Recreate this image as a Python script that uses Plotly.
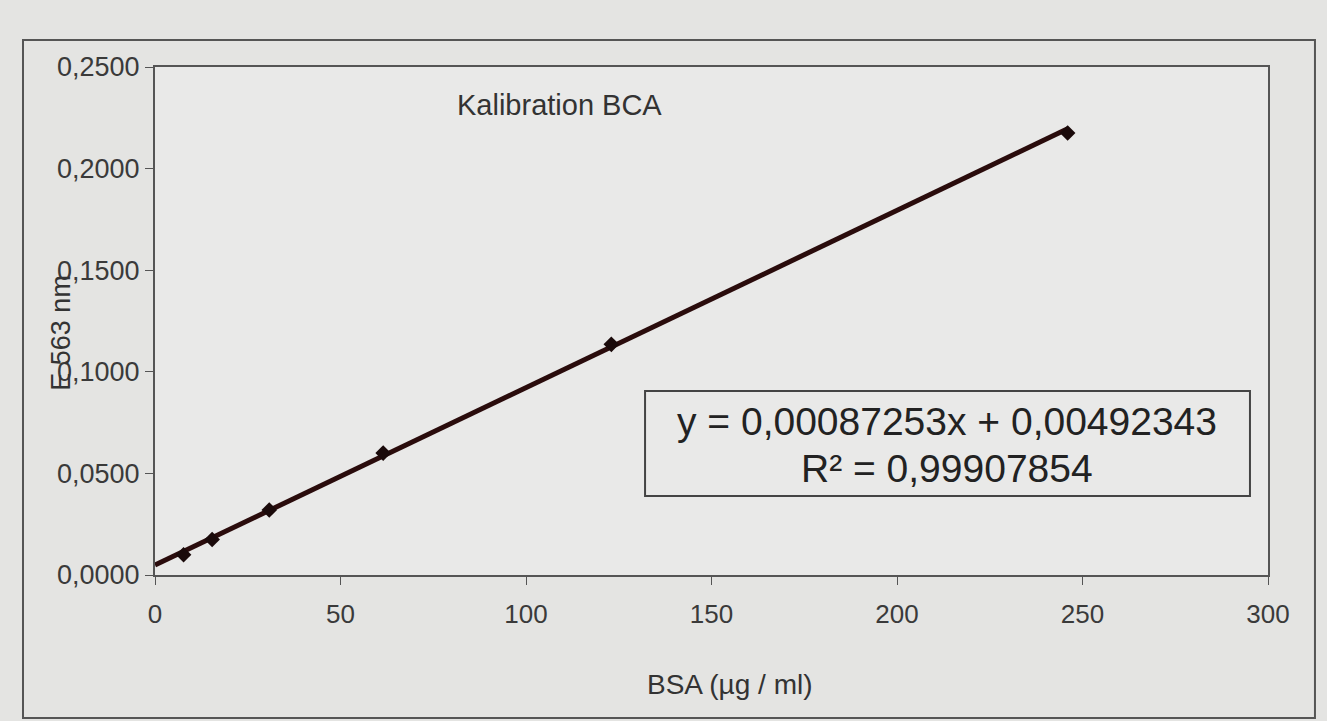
import plotly.graph_objects as go

bsa_ug_ml = [7.7, 15.4, 30.8, 61.5, 123, 246]
extinction = [0.0100, 0.0175, 0.0320, 0.0600, 0.1135, 0.2175]
slope = 0.00087253
intercept = 0.00492343
fit_x = [0, 246]
fit_y = [intercept + slope * x for x in fit_x]
x_ticks = [0, 50, 100, 150, 200, 250, 300]
y_ticks = [0, 0.05, 0.10, 0.15, 0.20, 0.25]

font_family = "Liberation Sans, Arial, sans-serif"
fig = go.Figure()
fig.add_trace(go.Scatter(x=fit_x, y=fit_y, mode="lines",
                         line=dict(color="#2a0c0c", width=5), showlegend=False, hoverinfo="skip"))
fig.add_trace(go.Scatter(x=bsa_ug_ml, y=extinction, mode="markers",
                         marker=dict(symbol="diamond", size=12, color="#1a0a0a"), showlegend=False))

fig.update_layout(
    width=1327, height=721,
    margin=dict(l=155, r=59, t=67, b=146),
    paper_bgcolor="#e4e4e2", plot_bgcolor="#e9e9e8",
    separators=",.",
    font=dict(family=font_family, size=26, color="#3a3a3a"),
    xaxis=dict(range=[0, 300], tickvals=x_ticks, ticks="outside", ticklen=8, tickcolor="#555",
               ticklabelstandoff=7,
               showline=True, linecolor="#555", linewidth=2, mirror=True, showgrid=False, zeroline=False,
               tickfont=dict(size=26, color="#3a3a3a")),
    yaxis=dict(range=[0, 0.25], tickvals=y_ticks, tickformat=".4f", ticks="outside", ticklen=8, tickcolor="#555",
               showline=True, linecolor="#555", linewidth=2, mirror=True, showgrid=False, zeroline=False,
               tickfont=dict(size=27, color="#3a3a3a")),
)

fig.add_annotation(text="Kalibration BCA", xref="paper", yref="paper", x=0.2695, y=0.925,
                   xanchor="left", yanchor="middle", showarrow=False, font=dict(size=29, color="#333"))
fig.add_annotation(text="BSA (µg / ml)", xref="paper", yref="paper", x=0.517, y=-0.2165,
                   xanchor="center", yanchor="middle", showarrow=False, font=dict(size=28, color="#333"))
fig.add_annotation(text="E 563 nm", xref="paper", yref="paper", x=-0.084, y=0.476, textangle=-90,
                   xanchor="center", yanchor="middle", showarrow=False, font=dict(size=27, color="#333"))
fig.add_shape(type="rect", xref="paper", yref="paper", x0=0.4403, x1=0.9838, y0=0.1555, y1=0.3622,
              line=dict(color="#444", width=2), fillcolor="#e9e9e8", layer="above")
fig.add_annotation(text="y = 0,00087253x + 0,00492343", xref="paper", yref="paper", x=0.712, y=0.3031,
                   xanchor="center", yanchor="middle", showarrow=False, font=dict(size=39, color="#222"))
fig.add_annotation(text="R² = 0,99907854", xref="paper", yref="paper", x=0.712, y=0.2087,
                   xanchor="center", yanchor="middle", showarrow=False, font=dict(size=39, color="#222"))
fig.add_shape(type="rect", xref="paper", yref="paper", x0=-0.1186, x1=1.0422, y0=-0.2815, y1=1.053,
              line=dict(color="#555", width=2))

fig.write_html("out.html", config={"displayModeBar": False},
               post_script="document.body.style.margin='0';document.body.style.background='#e4e4e2';")
